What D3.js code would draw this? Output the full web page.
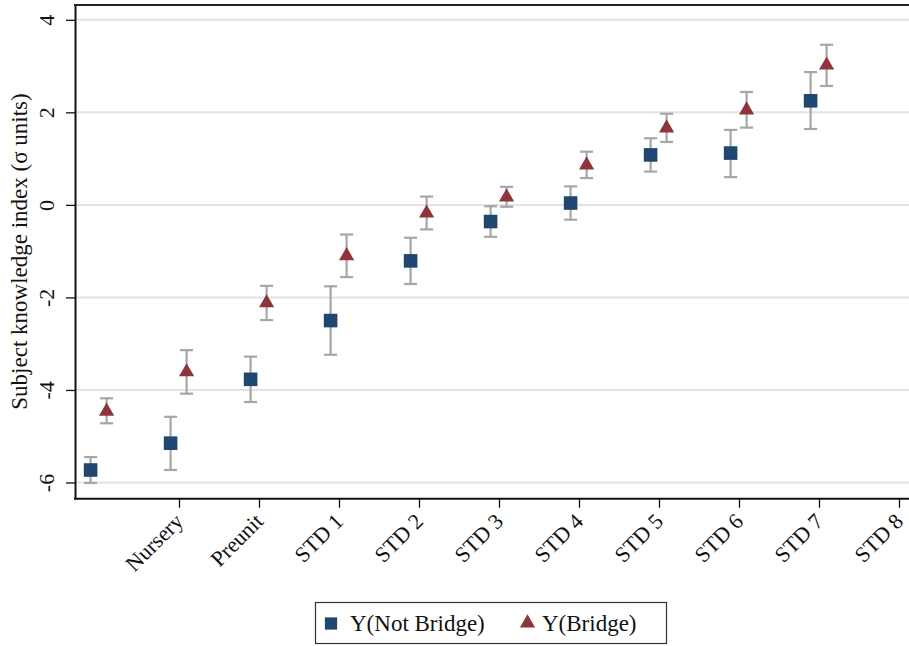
<!DOCTYPE html>
<html>
<head>
<meta charset="utf-8">
<script src="https://cdn.jsdelivr.net/npm/d3@7"></script>
<style>
  html, body { margin: 0; padding: 0; background: #fff; }
  svg { display: block; }
  svg text { font-family: "Liberation Serif", "Times New Roman", serif; }
</style>
</head>
<body>
<svg id="chart" width="909" height="646"></svg>
<script>
// Grade levels (position 0 is the unlabeled baseline)
const grades = ["", "Nursery", "Preunit", "STD 1", "STD 2", "STD 3", "STD 4", "STD 5", "STD 6", "STD 7", "STD 8"];
const yTicks = [-6, -4, -2, 0, 2, 4];

// Not Bridge: point estimate and 95% CI
const notBridge   = [-5.73, -5.15, -3.77, -2.50, -1.21, -0.36, 0.04, 1.08, 1.12, 2.25];
const notBridgeLo = [-6.01, -5.73, -4.26, -3.24, -1.71, -0.69, -0.32, 0.72, 0.60, 1.64];
const notBridgeHi = [-5.45, -4.58, -3.28, -1.76, -0.71, -0.03, 0.40, 1.44, 1.62, 2.87];

// Bridge: point estimate and 95% CI
const bridge   = [-4.46, -3.61, -2.12, -1.10, -0.18, 0.17, 0.86, 1.66, 2.05, 3.02];
const bridgeLo = [-4.72, -4.08, -2.49, -1.56, -0.53, -0.04, 0.58, 1.36, 1.67, 2.57];
const bridgeHi = [-4.18, -3.14, -1.75, -0.64, 0.18, 0.39, 1.15, 1.97, 2.44, 3.46];

const svg = d3.select("#chart");
const serif = '"Liberation Serif", "Times New Roman", serif';

const plot = { left: 75, top: 5, bottom: 498.7 };
const x = d3.scaleLinear().domain([-0.3, 10.3]).range([plot.left, plot.left + 10.6 * 80]);
const y = d3.scaleLinear().domain([-6.35, 4.32]).range([plot.bottom, plot.top]);
const xRight = 909;

const navy = "#1f476f";
const maroon = "#8e353b";
const ciGray = "#a6a6a6";

// Horizontal grid lines
svg.append("g").selectAll("line").data(yTicks).join("line")
  .attr("x1", plot.left).attr("x2", xRight)
  .attr("y1", d => y(d)).attr("y2", d => y(d))
  .attr("stroke", "#e3e3e3").attr("stroke-width", 2);

// Y axis (plain hyphen for negative labels)
const yAxis = svg.append("g")
  .attr("transform", `translate(${plot.left},0)`)
  .call(d3.axisLeft(y).tickValues(yTicks).tickFormat(d => String(d)).tickSize(9).tickSizeOuter(0));
yAxis.attr("font-family", serif);
yAxis.select(".domain").attr("stroke", "#111").attr("stroke-width", 2);
yAxis.selectAll(".tick line").attr("stroke", "#111").attr("stroke-width", 1.3);
yAxis.selectAll(".tick text")
  .attr("font-size", 22).attr("fill", "#111")
  .attr("text-anchor", "middle")
  .attr("x", null).attr("dy", null)
  .attr("transform", "translate(-21,0) rotate(-90)");

// Top frame line
svg.append("line")
  .attr("x1", plot.left - 1).attr("x2", xRight)
  .attr("y1", plot.top).attr("y2", plot.top)
  .attr("stroke", "#222").attr("stroke-width", 2);

// X axis
const xAxis = svg.append("g")
  .attr("transform", `translate(0,${plot.bottom})`)
  .call(d3.axisBottom(x).tickValues(d3.range(1, grades.length)).tickFormat(i => grades[i]).tickSize(9).tickSizeOuter(0));
xAxis.attr("font-family", serif);
xAxis.select(".domain").attr("stroke", "#111").attr("stroke-width", 2)
  .attr("d", `M${plot.left - 1},0H${xRight}`);
xAxis.selectAll(".tick line").attr("stroke", "#111").attr("stroke-width", 1.3);
xAxis.selectAll(".tick text")
  .attr("font-size", 22).attr("fill", "#111")
  .attr("text-anchor", "end")
  .attr("y", null).attr("dy", null)
  .attr("transform", "translate(5,24) rotate(-45)");

// Axis title
svg.append("text")
  .attr("transform", `translate(27,${(93 + 410) / 2}) rotate(-90)`)
  .attr("text-anchor", "middle")
  .attr("font-size", 23).attr("fill", "#111")
  .text("Subject knowledge index (σ units)");

// Series with horizontal dodge
const series = [
  { name: "Y(Not Bridge)", est: notBridge, lo: notBridgeLo, hi: notBridgeHi, dx: -0.105, color: navy, symbol: d3.symbolSquare, size: 185 },
  { name: "Y(Bridge)", est: bridge, lo: bridgeLo, hi: bridgeHi, dx: 0.095, color: maroon, symbol: d3.symbolTriangle, size: 100 }
];

const capHalf = 6.5;
series.forEach(s => {
  const g = svg.append("g");
  const pts = s.est.map((v, i) => ({ i, v, lo: s.lo[i], hi: s.hi[i] }));
  const cx = d => x(d.i + s.dx);
  // CI spikes
  g.selectAll("line.spike").data(pts).join("line").attr("class", "spike")
    .attr("x1", cx).attr("x2", cx)
    .attr("y1", d => y(d.lo)).attr("y2", d => y(d.hi))
    .attr("stroke", ciGray).attr("stroke-width", 2.2);
  // Caps
  ["lo", "hi"].forEach(k => {
    g.selectAll(`line.cap-${k}`).data(pts).join("line").attr("class", `cap-${k}`)
      .attr("x1", d => cx(d) - capHalf).attr("x2", d => cx(d) + capHalf)
      .attr("y1", d => y(d[k])).attr("y2", d => y(d[k]))
      .attr("stroke", ciGray).attr("stroke-width", 2.2);
  });
  // Markers
  g.selectAll("path.mark").data(pts).join("path").attr("class", "mark")
    .attr("d", d3.symbol().type(s.symbol).size(s.size))
    .attr("transform", d => `translate(${cx(d)},${y(d.v)})`)
    .attr("fill", s.color);
});

// Legend
const legend = svg.append("g");
legend.append("rect")
  .attr("x", 315.5).attr("y", 602.5).attr("width", 351).attr("height", 41)
  .attr("fill", "#fff").attr("stroke", "#333").attr("stroke-width", 1.2);
const legItems = [
  { s: series[0], mx: 331, my: 623.5, tx: 350 },
  { s: series[1], mx: 527.5, my: 623, tx: 542 }
];
legItems.forEach(it => {
  legend.append("path")
    .attr("d", d3.symbol().type(it.s.symbol).size(it.s.symbol === d3.symbolSquare ? 150 : 100))
    .attr("transform", `translate(${it.mx},${it.my})`)
    .attr("fill", it.s.color);
  legend.append("text")
    .attr("x", it.tx).attr("y", 631)
    .attr("font-size", 23).attr("fill", "#111")
    .text(it.s.name);
});
</script>
</body>
</html>
